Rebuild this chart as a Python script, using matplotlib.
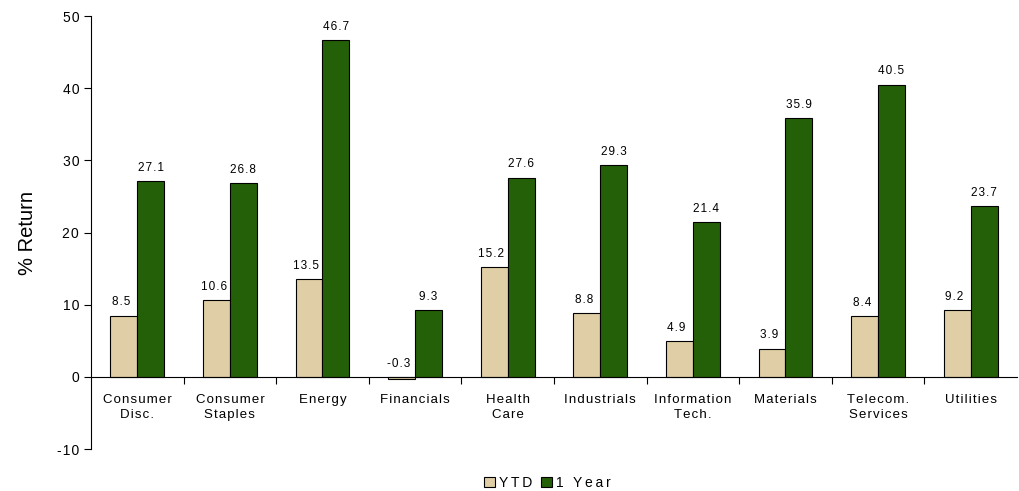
import numpy as np
import matplotlib.pyplot as plt
from matplotlib.ticker import FixedLocator, NullFormatter

sectors = ["Consumer\nDisc.", "Consumer\nStaples", "Energy", "Financials", "Health\nCare",
           "Industrials", "Information\nTech.", "Materials", "Telecom.\nServices", "Utilities"]
ytd = [8.5, 10.6, 13.5, -0.3, 15.2, 8.8, 4.9, 3.9, 8.4, 9.2]
one_year = [27.1, 26.8, 46.7, 9.3, 27.6, 29.3, 21.4, 35.9, 40.5, 23.7]

plt.rcParams['font.family'] = ['Liberation Sans', 'DejaVu Sans']
plt.rcParams['axes.unicode_minus'] = False


def spaced(s, sp="\u200a"):
    # wide letter tracking like the original
    return "\n".join(sp.join(line) for line in s.split("\n"))


fig = plt.figure(figsize=(10.19, 4.91), dpi=100)
ax = fig.add_axes([0.0893, 0.0855, 0.9087, 0.8819])

x = np.arange(len(sectors))
w = 0.29
ax.bar(x - w / 2, ytd, w, color="#E0CFA6", edgecolor="black", linewidth=0.8, label=spaced("YTD", "\u2009"))
ax.bar(x + w / 2, one_year, w, color="#246008", edgecolor="black", linewidth=0.8, label=spaced("1 Year", "\u2009"))

for xi, v in zip(x - w / 2, ytd):
    ax.text(xi - 0.03, max(v, 0) + 1.0, spaced(f"{v:.1f}"), ha="center", va="bottom", fontsize=8.5)
for xi, v in zip(x + w / 2, one_year):
    ax.text(xi, v + 1.0, spaced(f"{v:.1f}"), ha="center", va="bottom", fontsize=8.5)

ax.set_xlim(-0.5, len(sectors) - 0.5)
ax.set_ylim(-10, 50)
ax.set_yticks(range(-10, 51, 10))
ax.set_yticklabels([spaced(str(t)) for t in range(-10, 51, 10)])
ax.tick_params(axis="y", labelsize=10, length=5, direction="out", width=0.8)

ax.spines["top"].set_visible(False)
ax.spines["right"].set_visible(False)
ax.spines["bottom"].set_position(("data", 0))

ax.xaxis.set_major_locator(FixedLocator(x))
ax.set_xticklabels([spaced(s) for s in sectors], fontsize=9.5, linespacing=1.4)
ax.tick_params(axis="x", which="major", length=0, pad=12)
ax.xaxis.set_minor_locator(FixedLocator(np.arange(0.5, len(sectors) - 0.5, 1)))
ax.xaxis.set_minor_formatter(NullFormatter())
ax.tick_params(axis="x", which="minor", length=5, direction="out", width=0.8)

ax.set_ylabel("% Return", fontsize=14.5, labelpad=14)

fig.legend(loc="center", bbox_to_anchor=(0.537, 0.017), ncol=2, frameon=False,
           fontsize=10, handlelength=0.8, handleheight=0.8, handletextpad=0.3,
           columnspacing=0.6)

fig.savefig("out.png", dpi=100)
